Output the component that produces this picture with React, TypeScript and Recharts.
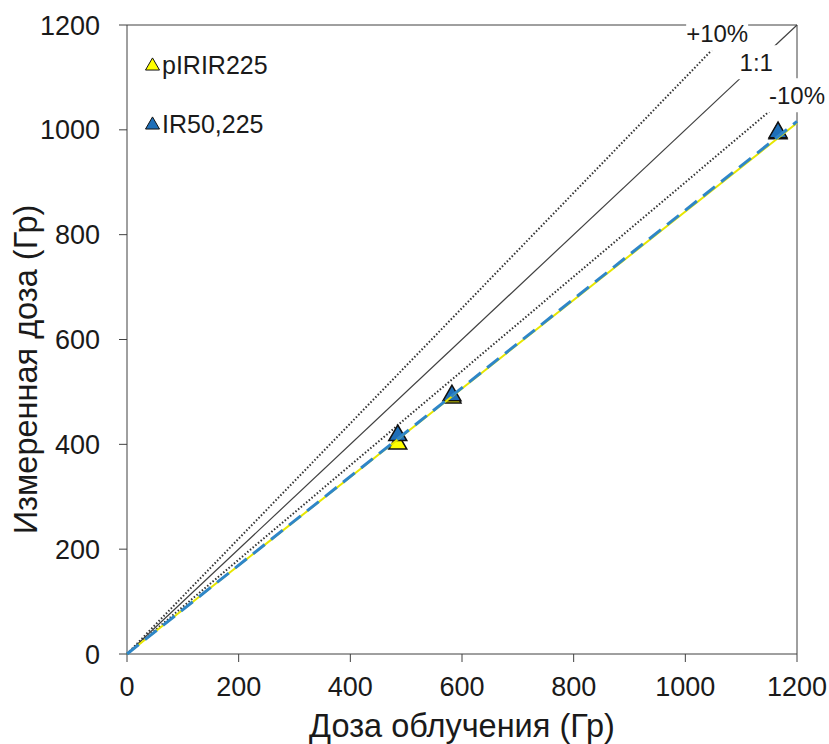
import { ScatterChart, Scatter, XAxis, YAxis, ReferenceLine, Legend } from "recharts";

const xTicks = [0, 200, 400, 600, 800, 1000, 1200];
const yTicks = [0, 200, 400, 600, 800, 1000, 1200];

const pirirPoints = [
  { dose: 485, measured: 401 },
  { dose: 582, measured: 489 },
  { dose: 1166, measured: 993 },
];
const ir50Points = [
  { dose: 485, measured: 417 },
  { dose: 582, measured: 493 },
  { dose: 1166, measured: 995 },
];
const pirirFit = [
  { dose: 0, measured: 0 },
  { dose: 1200, measured: 1013 },
];
const ir50Fit = [
  { dose: 0, measured: 0 },
  { dose: 1200, measured: 1016 },
];
const oneToOne = [
  { dose: 0, measured: 0 },
  { dose: 1200, measured: 1200 },
];
const plusTen = [
  { dose: 0, measured: 0 },
  { dose: 1091, measured: 1200 },
];
const minusTen = [
  { dose: 0, measured: 0 },
  { dose: 1200, measured: 1080 },
];
const refLabels = [
  { text: "+10%", dose: 1057, measured: 1183 },
  { text: "1:1", dose: 1127, measured: 1129 },
  { text: "-10%", dose: 1200, measured: 1066 },
];

const legendItems = [
  { name: "pIRIR225", fill: "#ffff00" },
  { name: "IR50,225", fill: "#1f6fb8" },
];

const FONT = "'Liberation Sans', Arial, sans-serif";
const AXIS = "#404040";
const TEXT = "#1a1a1a";

const noMarker = () => <g />;

const tri = (cx: number, cy: number, w: number) => {
  const h = (w * Math.sqrt(3)) / 2;
  return `${cx},${cy - (2 * h) / 3} ${cx - w / 2},${cy + h / 3} ${cx + w / 2},${cy + h / 3}`;
};

const triangleShape = (fill: string) => (props: any) => (
  <polygon points={tri(props.cx, props.cy, 18)} fill={fill} stroke="#111" strokeWidth={1.5} strokeLinejoin="miter" />
);

const LabelBox = (props: any) => {
  const { cx, cy, payload } = props;
  const w = payload.text.length * 13 + 10;
  return (
    <g>
      <rect x={cx - w / 2} y={cy - 17} width={w} height={34} fill="#ffffff" />
      <text x={cx} y={cy} textAnchor="middle" dominantBaseline="central" fontSize={24} fontFamily={FONT} fill={TEXT}>
        {payload.text}
      </text>
    </g>
  );
};

const YTitle = (props: any) => {
  const { viewBox } = props;
  const x = viewBox.x + 37;
  const y = viewBox.y + viewBox.height / 2 + 30;
  return (
    <text x={x} y={y} transform={`rotate(-90 ${x} ${y})`} textAnchor="middle" fontSize={32.5} fontFamily={FONT} fill={TEXT}>
      Измеренная доза (Гр)
    </text>
  );
};

const renderLegend = () => (
  <div style={{ fontFamily: FONT, fontSize: 25, color: TEXT }}>
    {legendItems.map((it) => (
      <div key={it.name} style={{ display: "flex", alignItems: "center", height: 30, marginBottom: 29 }}>
        <svg width={17} height={16} style={{ marginRight: 1 }}>
          <polygon points={tri(8.5, 9, 14)} fill={it.fill} stroke="#111" strokeWidth={1} />
        </svg>
        <span>{it.name}</span>
      </div>
    ))}
  </div>
);

export default function App() {
  return (
    <div style={{ position: "absolute", left: 0, top: 0, width: 829, height: 744, background: "#fff" }}>
      <ScatterChart width={829} height={744} margin={{ top: 25, right: 32, bottom: 0, left: 0 }}>
        <XAxis
          type="number"
          dataKey="dose"
          domain={[0, 1200]}
          ticks={xTicks}
          height={90}
          tickSize={8}
          tickMargin={15}
          stroke={AXIS}
          tick={{ fill: TEXT, fontSize: 27, fontFamily: FONT }}
          label={{ value: "Доза облучения (Гр)", position: "insideBottom", offset: 7, fill: TEXT, fontSize: 32.5, fontFamily: FONT }}
        />
        <YAxis
          type="number"
          dataKey="measured"
          domain={[0, 1200]}
          ticks={yTicks}
          width={127}
          tickSize={8}
          tickMargin={19}
          stroke={AXIS}
          tick={{ fill: TEXT, fontSize: 27, fontFamily: FONT }}
          label={<YTitle />}
        />
        <ReferenceLine y={1200} stroke={AXIS} strokeWidth={1} />
        <ReferenceLine x={1200} stroke={AXIS} strokeWidth={1} />
        <Scatter data={plusTen} line={{ stroke: "#333", strokeWidth: 2, strokeDasharray: "1.5 2" }} shape={noMarker} isAnimationActive={false} />
        <Scatter data={oneToOne} line={{ stroke: "#404040", strokeWidth: 1.2 }} shape={noMarker} isAnimationActive={false} />
        <Scatter data={minusTen} line={{ stroke: "#333", strokeWidth: 2, strokeDasharray: "1.5 2" }} shape={noMarker} isAnimationActive={false} />
        <Scatter name="pIRIR225" data={pirirPoints} shape={triangleShape("#ffff00")} isAnimationActive={false} />
        <Scatter name="IR50,225" data={ir50Points} shape={triangleShape("#1f6fb8")} isAnimationActive={false} />
        <Scatter data={pirirFit} line={{ stroke: "#e6e600", strokeWidth: 2 }} shape={noMarker} isAnimationActive={false} />
        <Scatter data={ir50Fit} line={{ stroke: "#2e86c8", strokeWidth: 3, strokeDasharray: "15 8" }} shape={noMarker} isAnimationActive={false} />
        <Scatter data={refLabels} shape={LabelBox} isAnimationActive={false} />
        <Legend
          layout="vertical"
          align="center"
          verticalAlign="middle"
          content={renderLegend}
          wrapperStyle={{ position: "absolute", left: 144, top: 50, width: 200 }}
        />
      </ScatterChart>
    </div>
  );
}
